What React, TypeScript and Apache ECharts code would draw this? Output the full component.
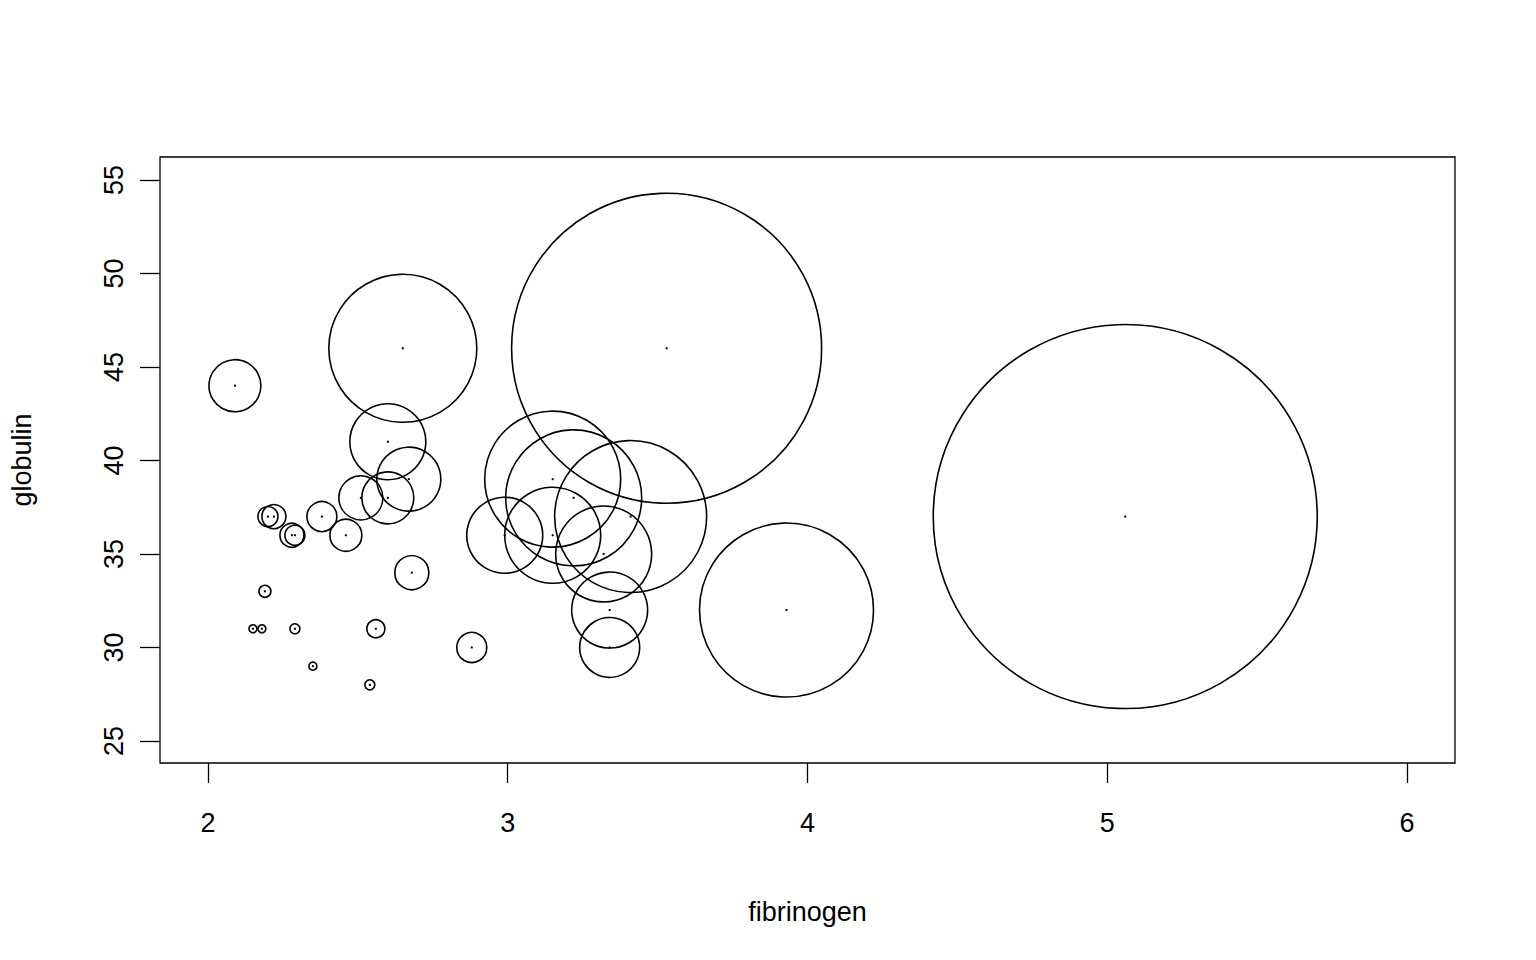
import { useEffect, useRef } from "react";
import * as echarts from "echarts";

const fibrinogen = [2.09, 2.65, 3.53, 5.06, 3.93, 2.6, 2.67, 2.51, 2.6, 2.22, 2.2, 2.38, 2.46, 2.28, 2.29, 2.68, 2.19, 2.15, 2.18, 2.29, 2.56, 2.35, 2.54, 2.88, 2.99, 3.15, 3.22, 3.15, 3.41, 3.32, 3.34, 3.34];
const globulin = [44, 46, 46, 37, 32, 41, 39, 38, 38, 37, 37, 37, 36, 36, 36, 34, 33, 31, 31, 31, 31, 29, 28, 30, 36, 39, 38, 36, 37, 35, 32, 30];
const radius = [26, 74, 155, 192, 87, 38, 32, 22, 26, 12, 10, 15, 16, 12, 10, 17, 6, 4, 4, 5, 9, 4, 5, 15, 38, 68, 68, 48, 76, 48, 38, 30];
const xTicks = [2, 3, 4, 5, 6];
const yTicks = [25, 30, 35, 40, 45, 50, 55];

export default function App() {
  const ref = useRef<HTMLDivElement>(null);
  useEffect(() => {
    if (!ref.current) return;
    const chart = echarts.init(ref.current, undefined, { renderer: "svg" });
    const font = "Liberation Sans, Arial, sans-serif";
    chart.setOption({
      animation: false,
      grid: { left: 157, right: 81, top: 157, bottom: 197, show: true, borderColor: "#000", borderWidth: 1.3, backgroundColor: "transparent" },
      xAxis: {
        type: "value", min: 1.84, max: 6.16,
        name: "fibrinogen", nameLocation: "middle", nameGap: 135,
        nameTextStyle: { fontFamily: font, fontSize: 27, color: "#000" },
        splitLine: { show: false },
        axisLine: { show: false },
        axisTick: { show: true, customValues: xTicks, length: 20, inside: false, lineStyle: { color: "#000", width: 1.3 } },
        axisLabel: { customValues: xTicks, margin: 46, fontFamily: font, fontSize: 27, color: "#000" },
      },
      yAxis: {
        type: "value", min: 23.82, max: 56.23,
        name: "globulin", nameLocation: "middle", nameGap: 125, nameRotate: 90,
        nameTextStyle: { fontFamily: font, fontSize: 27, color: "#000" },
        splitLine: { show: false },
        axisLine: { show: false },
        axisTick: { show: true, customValues: yTicks, length: 20, lineStyle: { color: "#000", width: 1.3 } },
        axisLabel: { customValues: yTicks, rotate: 90, margin: 46, fontFamily: font, fontSize: 27, color: "#000", verticalAlign: "middle", align: "center" },
      },
      series: [
        {
          type: "custom",
          data: fibrinogen.map((f, i) => [f, globulin[i], radius[i]]),
          renderItem: (params: any, api: any) => {
            const p = api.coord([api.value(0), api.value(1)]);
            const r = api.value(2);
            return {
              type: "group",
              children: [
                { type: "circle", shape: { cx: p[0], cy: p[1], r }, style: { fill: "none", stroke: "#000", lineWidth: 1.6 } },
                { type: "rect", shape: { x: p[0] - 1, y: p[1] - 1, width: 2, height: 2 }, style: { fill: "#000" } },
              ],
            };
          },
        },
      ],
    });
    return () => chart.dispose();
  }, []);
  return <div ref={ref} style={{ position: "absolute", left: 0, top: 0, width: 1536, height: 960 }} />;
}
